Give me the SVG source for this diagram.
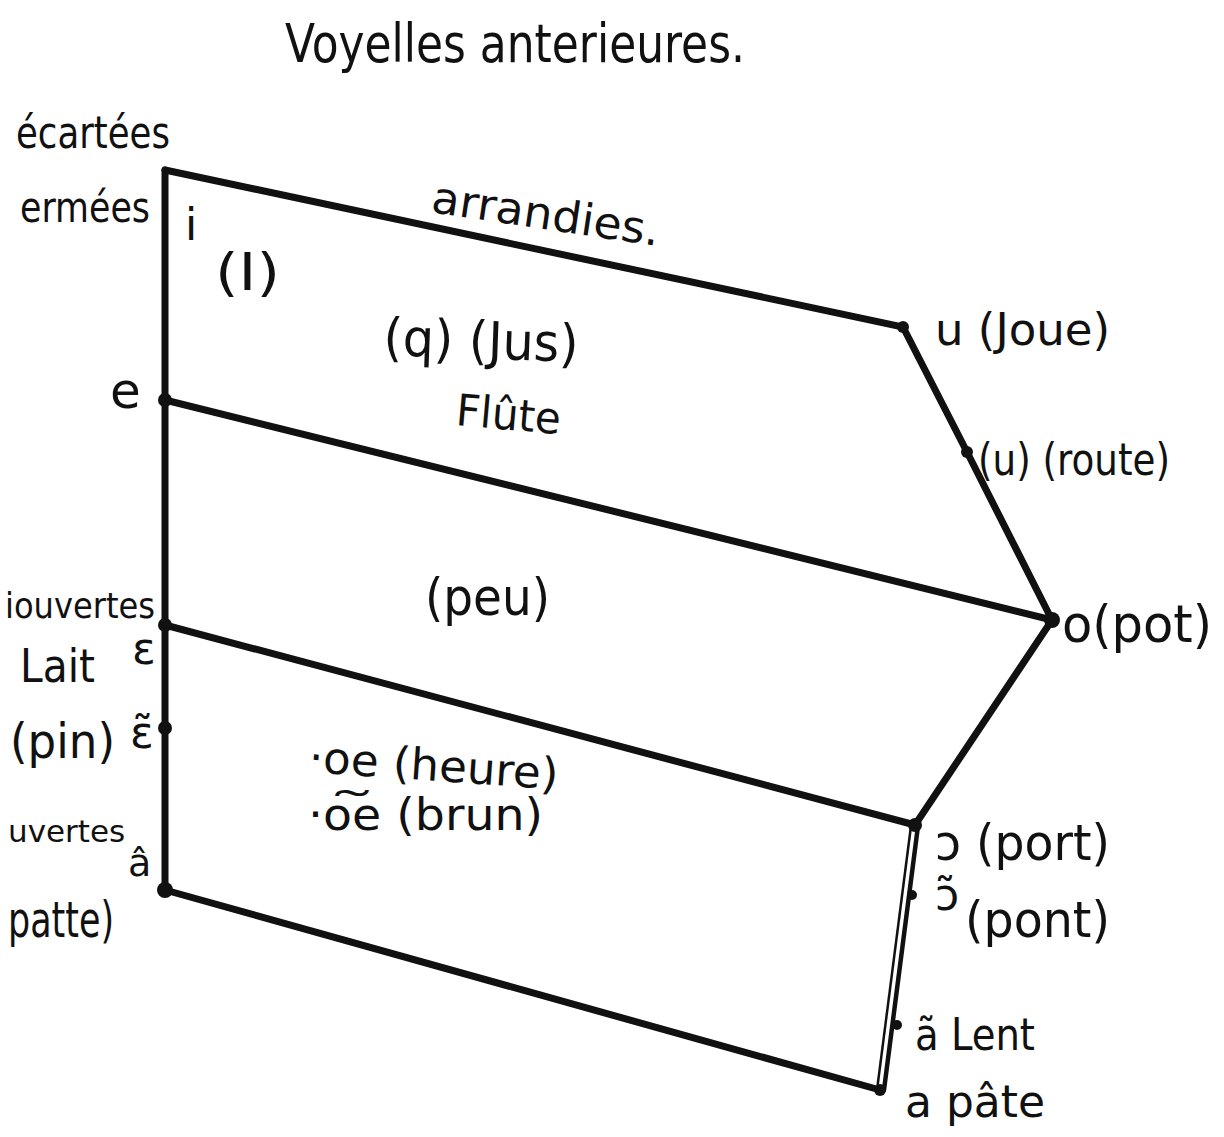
<svg xmlns="http://www.w3.org/2000/svg" width="1224" height="1137" viewBox="0 0 1224 1137">
<style>
.t{font-family:"DejaVu Sans","Liberation Sans",sans-serif;fill:#111}
.ln{stroke:#111;stroke-width:7;stroke-linecap:round;fill:none}
.thin{stroke:#111;stroke-width:2.5;fill:none}
.dot{fill:#111}
</style>
<rect width="1224" height="1137" fill="#fff"/>
<g id="title"><text class="t" x="285" y="62" font-size="54" textLength="460" lengthAdjust="spacingAndGlyphs">Voyelles anterieures.</text></g>
<g id="connectors">
<path class="ln" d="M165,170 L165,890"/>
<path class="ln" d="M165,170 L903,327 L967,452 L1052,620"/>
<path class="ln" d="M165,400 L1052,620"/>
<path class="ln" d="M165,625 L915,825"/>
<path class="ln" d="M1052,620 L915,825"/>
<path class="ln" d="M165,890 L880,1090"/>
<path class="ln" style="stroke-width:4.5" d="M918,826 L884,1090"/>
<path class="thin" d="M911,826 L877,1090"/>
</g>
<g id="node-i"><text class="t" x="185" y="240" font-size="44">i</text><text class="t" x="215" y="290" font-size="52" textLength="65" lengthAdjust="spacingAndGlyphs">(I)</text></g>
<g id="label-ecartees"><text class="t" x="16" y="148" font-size="44" textLength="154" lengthAdjust="spacingAndGlyphs">écartées</text></g>
<g id="label-fermees"><text class="t" x="20" y="222" font-size="42" textLength="130" lengthAdjust="spacingAndGlyphs">ermées</text></g>
<g id="label-arrandies"><text class="t" x="430" y="212" font-size="44" textLength="230" lengthAdjust="spacingAndGlyphs" transform="rotate(8.5 430 212)">arrandies.</text></g>
<g id="node-jus"><text class="t" x="383" y="355" font-size="52" textLength="195" lengthAdjust="spacingAndGlyphs" transform="rotate(2 383 355)">(q) (Jus)</text><text class="t" x="455" y="425" font-size="44" textLength="105" lengthAdjust="spacingAndGlyphs" transform="rotate(5 455 425)">Flûte</text></g>
<g id="node-e"><circle class="dot" cx="165" cy="400" r="7"/><text class="t" x="110" y="408" font-size="50">e</text></g>
<g id="node-u"><circle class="dot" cx="903" cy="327" r="6"/><text class="t" x="935" y="345" font-size="44" textLength="175" lengthAdjust="spacingAndGlyphs">u (Joue)</text></g>
<g id="node-route"><circle class="dot" cx="967" cy="452" r="6"/><text class="t" x="978" y="475" font-size="44" textLength="192" lengthAdjust="spacingAndGlyphs">(u) (route)</text></g>
<g id="node-o"><circle class="dot" cx="1052" cy="620" r="8"/><text class="t" x="1062" y="642" font-size="52" textLength="150" lengthAdjust="spacingAndGlyphs">o(pot)</text></g>
<g id="node-peu"><text class="t" x="425" y="615" font-size="52" textLength="125" lengthAdjust="spacingAndGlyphs">(peu)</text></g>
<g id="node-epsilon"><circle class="dot" cx="165" cy="625" r="7"/><text class="t" x="5" y="618" font-size="36" textLength="150" lengthAdjust="spacingAndGlyphs">iouvertes</text><text class="t" x="132" y="664" font-size="44">ɛ</text><text class="t" x="20" y="682" font-size="46" textLength="75" lengthAdjust="spacingAndGlyphs">Lait</text></g>
<g id="node-epsilon-nasal"><circle class="dot" cx="165" cy="728" r="7"/><text class="t" x="130" y="748" font-size="44">ɛ̃</text><text class="t" x="10" y="758" font-size="48" textLength="105" lengthAdjust="spacingAndGlyphs">(pin)</text></g>
<g id="node-a-ant"><circle class="dot" cx="165" cy="890" r="8"/><text class="t" x="8" y="842" font-size="31">uvertes</text><text class="t" x="128" y="876" font-size="38">â</text><text class="t" x="8" y="937" font-size="50" textLength="106" lengthAdjust="spacingAndGlyphs">patte)</text></g>
<g id="node-oe"><text class="t" x="308" y="772" font-size="44" textLength="250" lengthAdjust="spacingAndGlyphs" transform="rotate(4 308 772)">·oe (heure)</text><text class="t" x="308" y="830" font-size="44" textLength="235" lengthAdjust="spacingAndGlyphs">·o͠e (brun)</text></g>
<g id="node-open-o"><circle class="dot" cx="915" cy="825" r="7"/><text class="t" x="935" y="860" font-size="50" textLength="175" lengthAdjust="spacingAndGlyphs">ɔ (port)</text></g>
<g id="node-open-o-nasal"><circle class="dot" cx="912" cy="895" r="5"/><text class="t" x="935" y="910" font-size="44">ɔ̃</text><text class="t" x="965" y="937" font-size="50" textLength="145" lengthAdjust="spacingAndGlyphs">(pont)</text></g>
<g id="node-a-nasal"><circle class="dot" cx="897" cy="1025" r="5"/><text class="t" x="915" y="1050" font-size="44" textLength="120" lengthAdjust="spacingAndGlyphs">ã Lent</text></g>
<g id="node-a-post"><circle class="dot" cx="880" cy="1090" r="6"/><text class="t" x="905" y="1117" font-size="44" textLength="140" lengthAdjust="spacingAndGlyphs">a pâte</text></g>
</svg>
